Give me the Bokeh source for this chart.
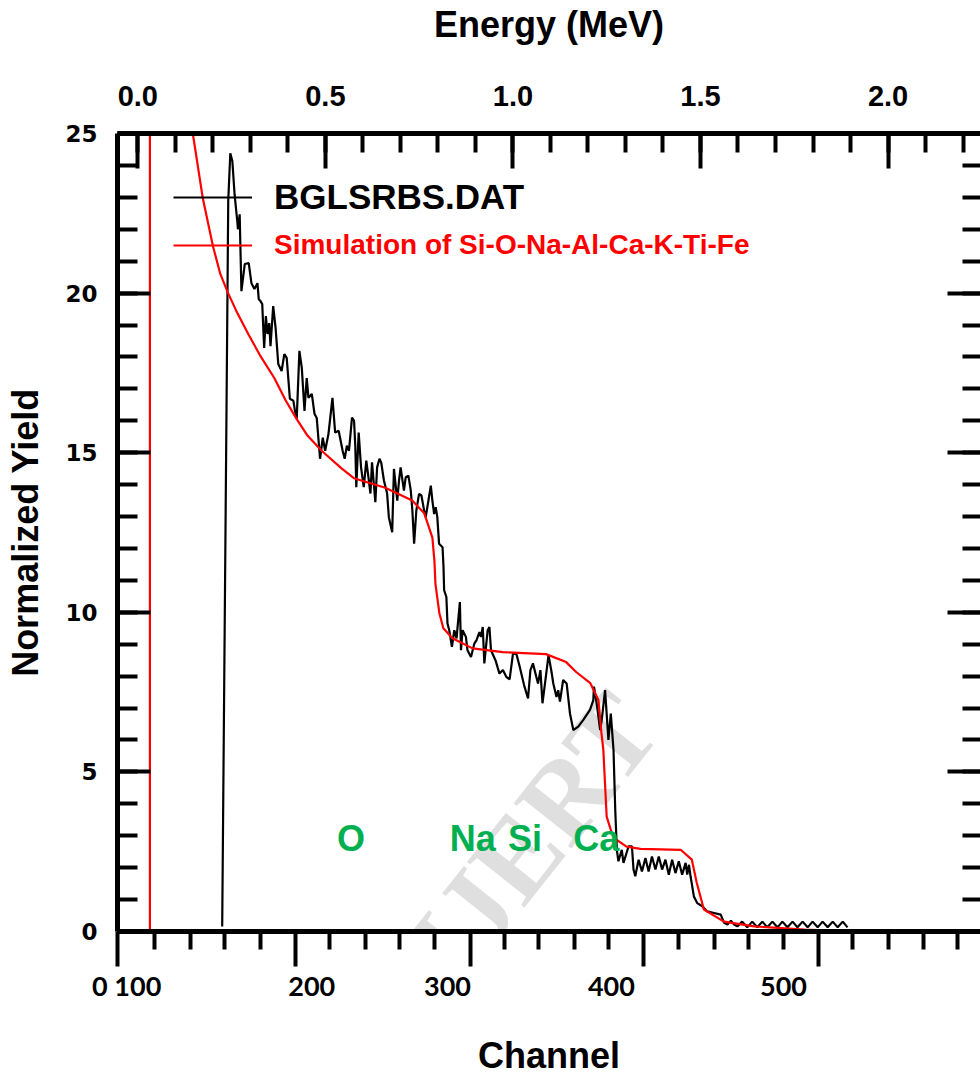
from bokeh.plotting import figure
from bokeh.models import (LinearAxis, Range1d, SingleIntervalTicker, FixedTicker,
                          Legend, LegendItem, PrintfTickFormatter)
from bokeh.core.properties import value
from bokeh.embed import file_html
from bokeh.resources import INLINE

# ---------------- data ----------------
data_channel = [151.2, 153.8, 155.0, 156.3, 157.6, 159.0, 160.7, 161.1, 162.2, 163.3, 165.4, 167.9, 169.6,
                171.5, 173.4, 174.2, 175.3, 176.4, 177.6, 178.7, 179.7, 180.8, 181.6, 183.3, 184.8, 186.5,
                188.6, 190.3, 191.8, 193.8, 196.0, 197.0, 198.1, 199.8, 201.3, 203.0, 204.4, 205.5, 207.6,
                209.3, 210.7, 212.8, 214.5, 216.0, 218.1, 220.6, 222.3, 224.5, 227.0, 228.3, 229.7, 231.0,
                232.9, 234.2, 235.0, 235.6, 237.1, 238.6, 240.3, 241.9, 243.5, 244.5, 245.5, 247.6, 248.7,
                250.2, 251.3, 253.0, 255.0, 256.1, 258.2, 259.3, 261.4, 262.5, 263.5, 265.6, 266.7, 268.4,
                269.9, 270.9, 272.0, 273.4, 275.1, 276.6, 278.3, 279.3, 281.0, 282.5, 283.5, 284.6, 285.6,
                286.6, 287.7, 289.9, 290.5, 290.9, 292.3, 293.0, 294.1, 295.8, 297.3, 298.7, 300.8, 301.5,
                302.5, 304.6, 305.6, 307.8, 309.9, 311.3, 313.1, 314.1, 315.2, 316.2, 318.3, 319.4, 320.4,
                323.2, 325.7, 327.9, 330.0, 332.1, 334.2, 336.3, 338.5, 341.2, 343.7, 345.2, 346.8, 348.9,
                350.0, 351.5, 352.8, 354.9, 356.6, 358.5, 359.6, 361.6, 362.7, 363.8, 365.8, 368.0, 370.1,
                372.2, 375.3, 378.5, 382.7, 384.8, 385.2, 386.9, 388.0, 389.1, 390.1, 392.2, 394.3, 395.8,
                397.5, 398.6, 399.6, 400.6, 402.7, 403.8, 407.0, 409.1, 410.1, 411.2, 413.3, 415.4, 417.6,
                419.6, 421.7, 423.9, 426.0, 428.1, 430.2, 432.3, 434.4, 436.5, 438.6, 440.7, 442.9, 443.9,
                445.0, 446.0, 448.1, 450.2, 453.4, 456.5, 460.8, 465.0, 467.1, 469.2, 471.4, 473.4, 475.5,
                478.5, 481.7, 484.8, 488.0, 491.2, 494.3, 497.5, 500.7, 503.8, 507.0, 510.2, 513.3, 516.5,
                519.7, 522.8, 526.0, 529.1, 532.3, 535.5, 538.6, 541.8, 544.8]
data_yield = [0.16, 15.69, 22.88, 24.38, 24.13, 23.09, 22.25, 22.0, 22.47, 20.06, 20.91, 20.94, 20.31,
              20.13, 20.31, 19.81, 19.75, 19.66, 18.28, 19.28, 18.72, 19.06, 18.34, 19.59, 18.91, 17.78,
              17.56, 18.09, 17.97, 16.69, 16.63, 16.31, 16.06, 18.19, 17.66, 16.31, 17.34, 16.72, 16.84,
              16.22, 16.09, 14.81, 15.47, 15.06, 15.59, 16.72, 15.63, 15.69, 15.06, 14.81, 15.22, 15.06,
              16.1, 16.0, 15.17, 13.92, 15.63, 14.54, 13.92, 14.75, 14.13, 13.72, 14.7, 13.45, 14.54,
              14.81, 14.69, 14.13, 13.72, 12.98, 12.51, 14.49, 13.5, 14.13, 14.54, 13.81, 14.23, 14.28,
              13.81, 13.19, 12.15, 13.19, 13.71, 13.66, 13.19, 12.98, 13.5, 13.97, 13.5, 13.08, 13.29,
              12.98, 12.15, 12.04, 11.42, 10.69, 10.48, 9.65, 9.44, 8.92, 9.44, 9.18, 10.32, 8.81,
              9.44, 9.23, 8.81, 8.6, 9.02, 9.13, 9.38, 9.23, 9.54, 8.4, 9.44, 9.54, 8.81,
              8.5, 8.08, 8.19, 7.98, 7.9, 8.69, 8.71, 8.29, 7.72, 7.3, 8.19, 8.4, 7.98,
              7.77, 8.19, 7.15, 7.98, 8.66, 8.13, 7.77, 7.35, 7.56, 7.2, 7.88, 7.77, 6.83,
              6.31, 6.42, 6.63, 6.94, 7.25, 7.67, 7.15, 6.73, 6.31, 6.63, 7.56, 6.0, 6.83,
              5.69, 3.81, 2.56, 2.2, 2.56, 2.15, 2.67, 2.67, 1.94, 1.73, 2.25, 1.88, 2.3,
              1.88, 2.35, 1.94, 2.35, 1.94, 2.25, 1.78, 2.25, 1.83, 2.2, 1.78, 2.15, 1.78,
              2.09, 1.73, 1.1, 0.89, 0.79, 0.63, 0.58, 0.53, 0.27, 0.22, 0.34, 0.22, 0.16,
              0.31, 0.13, 0.31, 0.13, 0.31, 0.13, 0.31, 0.13, 0.31, 0.13, 0.31, 0.13, 0.31,
              0.13, 0.31, 0.13, 0.31, 0.13, 0.31, 0.13, 0.31, 0.13, 0.28, 0.06]

sim_channel = [105.7, 105.7, 126.0, 132.7, 139.0, 145.4, 150.0, 154.9, 160.0, 167.6, 175.0, 184.0, 191.0,
               198.0, 205.0, 213.8, 226.5, 234.1, 253.8, 270.8, 278.4, 283.5, 284.8, 285.4, 287.9, 290.4,
               296.1, 308.8, 327.8, 355.0, 367.7, 374.0, 382.9, 388.0, 389.9, 391.1, 393.2, 396.4, 399.3,
               405.7, 414.5, 439.8, 446.8, 449.9, 454.4, 467.0, 486.0, 517.7, 551.3]
sim_yield = [0.0, 28.0, 27.3, 25.0, 22.97, 21.47, 20.6, 20.0, 19.45, 18.72, 18.05, 17.34, 16.65,
             16.06, 15.53, 15.06, 14.5, 14.2, 13.9, 13.5, 13.1, 12.34, 11.6, 10.9, 9.97, 9.5,
             9.19, 8.87, 8.75, 8.69, 8.44, 8.13, 7.78, 7.25, 6.22, 5.69, 3.6, 3.09, 2.88,
             2.66, 2.59, 2.56, 2.25, 1.53, 0.69, 0.31, 0.16, 0.06, 0.0]

element_labels = ["O", "Na", "Si", "Ca"]
element_channels = [232.3, 308.9, 341.8, 386.7]
element_yield = [2.9, 2.9, 2.9, 2.9]

legend_labels = ["BGLSRBS.DAT", "Simulation of Si-O-Na-Al-Ca-K-Ti-Fe"]

channel_tick_labels = ["0 100", "200", "300", "400", "500"]
channel_label_positions = [91.1, 207.6, 293.0, 396.2, 504.5]
channel_major_ticks = [85.4, 197.5, 307.6, 416.5, 526.6]
channel_minor_ticks = [108.8, 131.0, 152.5, 175.3, 219.0, 241.1, 262.7, 284.8, 329.1, 350.6,
                       372.8, 394.3, 438.6, 460.8, 482.3, 504.5, 548.1, 570.3, 592.4, 614.0]

watermark_text = ["IJERT"]
watermark_channel = [346.8]
watermark_yield = [3.0]

CH_START, CH_END = 85.3, 628.5
E_ZERO_CH, CH_PER_MEV = 98.1, 236.1

# ---------------- figure ----------------
p = figure(width=980, height=1078, output_backend="svg", toolbar_location=None,
           x_range=Range1d(CH_START, CH_END), y_range=Range1d(0, 25),
           x_axis_location=None, y_axis_location=None,
           min_border_left=117, min_border_top=132, min_border_bottom=145, min_border_right=0)
p.extra_x_ranges = {"energy": Range1d((CH_START - E_ZERO_CH) / CH_PER_MEV,
                                      (CH_END - E_ZERO_CH) / CH_PER_MEV)}
p.grid.visible = False
p.outline_line_color = None
p.background_fill_color = "white"
p.border_fill_color = "white"

TITLE_FONT = "Liberation Sans"


def frame_axis(ax, major_in, major_out, minor_in, minor_out):
    ax.axis_line_width = 5
    ax.axis_line_color = "black"
    ax.major_tick_line_width = 4
    ax.minor_tick_line_width = 4
    ax.major_tick_line_color = "black"
    ax.minor_tick_line_color = "black"
    ax.major_tick_in = major_in
    ax.major_tick_out = major_out
    ax.minor_tick_in = minor_in
    ax.minor_tick_out = minor_out
    ax.major_label_text_color = "black"
    ax.axis_label_text_color = "black"


def hide_labels(ax):
    ax.major_label_text_font_size = "1px"
    ax.major_label_text_alpha = 0
    ax.major_label_standoff = 0


# left axis
yax = LinearAxis(ticker=SingleIntervalTicker(interval=5, num_minor_ticks=5),
                 axis_label="Normalized Yield")
frame_axis(yax, 33, 0, 20, 0)
yax.major_label_text_font = "DejaVu Sans"
yax.major_label_text_font_style = "bold"
yax.major_label_text_font_size = "23px"
yax.major_label_standoff = 20
yax.axis_label_text_font = TITLE_FONT
yax.axis_label_text_font_style = "bold"
yax.axis_label_text_font_size = "36px"
yax.axis_label_standoff = 16
p.add_layout(yax, "left")

# right axis (ticks only)
rax = LinearAxis(ticker=SingleIntervalTicker(interval=5, num_minor_ticks=5))
frame_axis(rax, 33, 0, 18, 0)
rax.axis_line_color = None
hide_labels(rax)
p.add_layout(rax, "right")

# top axis (energy)
tax = LinearAxis(x_range_name="energy",
                 ticker=SingleIntervalTicker(interval=0.5, num_minor_ticks=5),
                 formatter=PrintfTickFormatter(format="%.1f"),
                 axis_label="Energy (MeV)")
frame_axis(tax, 35, 0, 19, 0)
tax.major_label_text_font = TITLE_FONT
tax.major_label_text_font_style = "bold"
tax.major_label_text_font_size = "29px"
tax.major_label_standoff = 28
tax.axis_label_text_font = TITLE_FONT
tax.axis_label_text_font_style = "bold"
tax.axis_label_text_font_size = "36px"
tax.axis_label_standoff = 38
p.add_layout(tax, "above")

# bottom axis: tick marks
bax = LinearAxis(ticker=FixedTicker(ticks=channel_major_ticks, minor_ticks=channel_minor_ticks))
frame_axis(bax, 0, 35, 0, 18)
hide_labels(bax)
p.add_layout(bax, "below")

# bottom axis: labels + title
lax = LinearAxis(ticker=FixedTicker(ticks=channel_label_positions, minor_ticks=[]),
                 major_label_overrides={pos: lab for pos, lab in zip(channel_label_positions, channel_tick_labels)},
                 axis_label="Channel")
lax.axis_line_color = None
lax.major_tick_line_color = None
lax.minor_tick_line_color = None
lax.major_tick_in = 0
lax.major_tick_out = 0
lax.minor_tick_in = 0
lax.minor_tick_out = 0
lax.major_label_text_color = "black"
lax.axis_label_text_color = "black"
lax.major_label_text_font = "Lato"
lax.major_label_text_font_style = "bold"
lax.major_label_text_font_size = "27px"
lax.major_label_standoff = 2
lax.axis_label_text_font = TITLE_FONT
lax.axis_label_text_font_style = "bold"
lax.axis_label_text_font_size = "36px"
lax.axis_label_standoff = 30
p.add_layout(lax, "below")

# watermark (under the data)
p.text(x=watermark_channel, y=watermark_yield, text=watermark_text, angle=0.9,
       text_font=value("Liberation Serif"), text_font_size="112px", text_font_style="bold",
       text_color="#c4c4c4", text_alpha=0.55, text_align="center", text_baseline="middle",
       level="underlay")

# curves
r_data = p.line(data_channel, data_yield, line_color="black", line_width=2.2)
r_sim = p.line(sim_channel, sim_yield, line_color="red", line_width=2.2)

# element labels
p.text(x=element_channels, y=element_yield, text=element_labels,
       text_color="#00B050", text_font=value(TITLE_FONT), text_font_style="bold",
       text_font_size="36px", text_align="center", text_baseline="middle")


# legends
def make_legend(label, renderer, loc, color, size):
    lg = Legend(items=[LegendItem(label=label, renderers=[renderer])], location=loc)
    lg.border_line_color = None
    lg.background_fill_alpha = 0
    lg.padding = 0
    lg.margin = 0
    lg.glyph_width = 79
    lg.glyph_height = 20
    lg.label_height = 20
    lg.label_standoff = 22
    lg.label_text_font = TITLE_FONT
    lg.label_text_font_style = "bold"
    lg.label_text_font_size = size
    lg.label_text_color = color
    return lg


p.add_layout(make_legend(legend_labels[0], r_data, (56, 714), "black", "35px"))
p.add_layout(make_legend(legend_labels[1], r_sim, (56, 670), "red", "28px"))

open("out.html", "w").write(file_html(p, INLINE))
